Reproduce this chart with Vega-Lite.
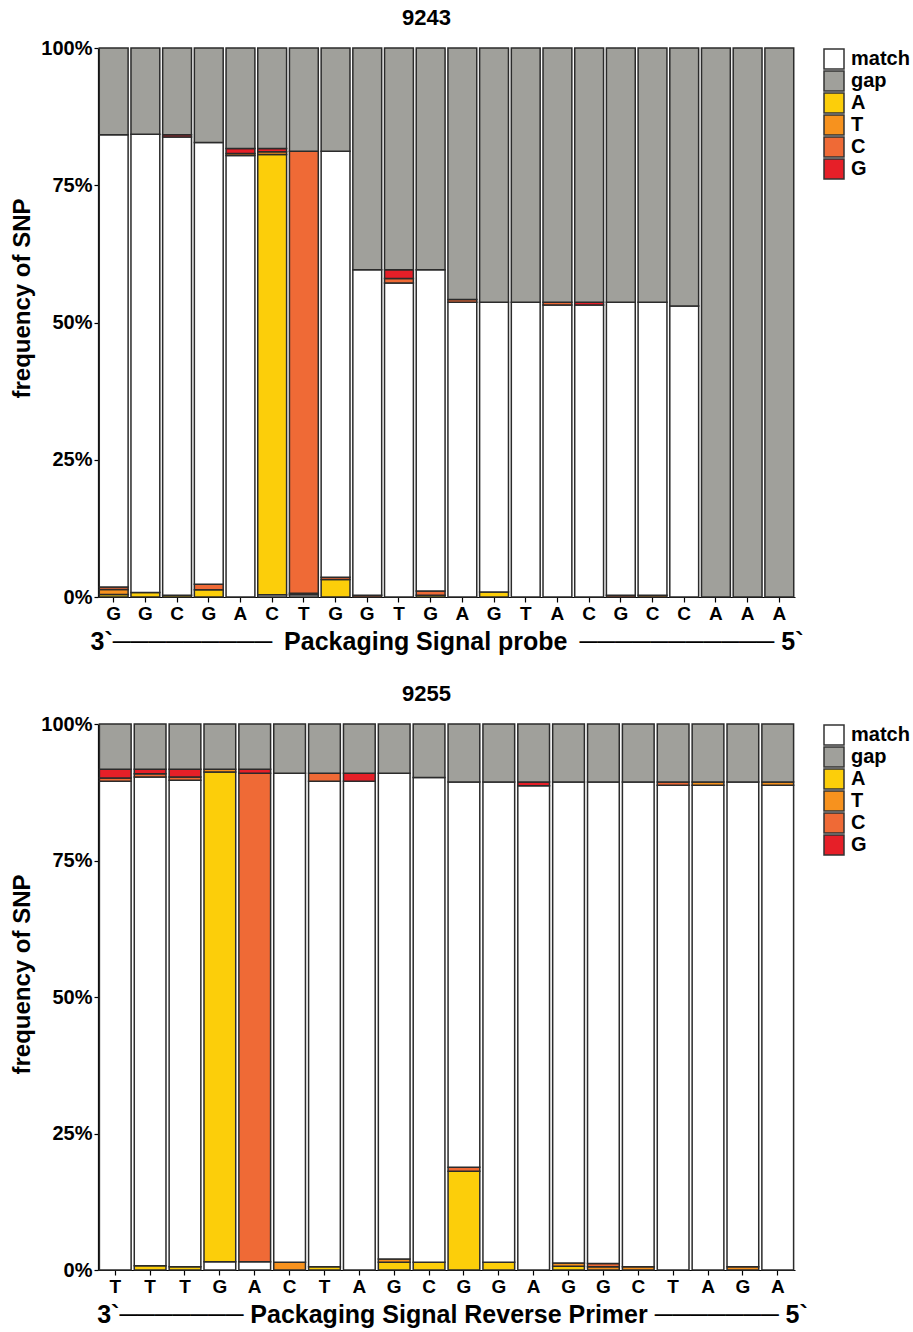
{
  "$schema": "https://vega.github.io/schema/vega-lite/v6.json",
  "padding": {"left": 10, "top": 7, "right": 2, "bottom": 2},
  "background": "white",
  "config": {
    "font": "Liberation Sans",
    "view": {"stroke": null},
    "axis": {"domainColor": "#000", "tickColor": "#000", "labelColor": "#000", "titleColor": "#000", "labelFont": "Liberation Sans", "titleFont": "Liberation Sans", "labelFontWeight": "bold", "titleFontWeight": "bold", "grid": false, "domainWidth": 1.2, "tickWidth": 1.2},
    "title": {"fontSize": 22, "fontWeight": "bold", "color": "#000", "font": "Liberation Sans", "offset": 8, "dx": -20},
    "legend": {"orient": "right", "offset": 28, "symbolType": "square", "symbolSize": 400, "symbolStrokeColor": "#333", "symbolStrokeWidth": 1.5, "labelFontSize": 20, "labelFontWeight": "bold", "labelFont": "Liberation Sans", "labelColor": "#000", "rowPadding": 0, "clipHeight": 22, "labelOffset": 6, "padding": 0}
  },
  "datasets": {
    "d9243": [
      {"site": "01 G", "cat": "A", "v": 0.45}, {"site": "01 G", "cat": "T", "v": 0.9}, {"site": "01 G", "cat": "C", "v": 0.45}, {"site": "01 G", "cat": "match", "v": 82.4}, {"site": "01 G", "cat": "gap", "v": 15.8},
      {"site": "02 G", "cat": "A", "v": 0.8}, {"site": "02 G", "cat": "match", "v": 83.5}, {"site": "02 G", "cat": "gap", "v": 15.7},
      {"site": "03 C", "cat": "A", "v": 0.3}, {"site": "03 C", "cat": "match", "v": 83.5}, {"site": "03 C", "cat": "G", "v": 0.4}, {"site": "03 C", "cat": "gap", "v": 15.8},
      {"site": "04 G", "cat": "A", "v": 1.3}, {"site": "04 G", "cat": "C", "v": 1.0}, {"site": "04 G", "cat": "match", "v": 80.5}, {"site": "04 G", "cat": "gap", "v": 17.2},
      {"site": "05 A", "cat": "match", "v": 80.4}, {"site": "05 A", "cat": "T", "v": 0.4}, {"site": "05 A", "cat": "G", "v": 0.9}, {"site": "05 A", "cat": "gap", "v": 18.3},
      {"site": "06 C", "cat": "match", "v": 0.4}, {"site": "06 C", "cat": "A", "v": 80.2}, {"site": "06 C", "cat": "T", "v": 0.5}, {"site": "06 C", "cat": "G", "v": 0.6}, {"site": "06 C", "cat": "gap", "v": 18.3},
      {"site": "07 T", "cat": "match", "v": 0.4}, {"site": "07 T", "cat": "A", "v": 0.3}, {"site": "07 T", "cat": "C", "v": 80.5}, {"site": "07 T", "cat": "gap", "v": 18.8},
      {"site": "08 G", "cat": "A", "v": 3.2}, {"site": "08 G", "cat": "C", "v": 0.4}, {"site": "08 G", "cat": "match", "v": 77.6}, {"site": "08 G", "cat": "gap", "v": 18.8},
      {"site": "09 G", "cat": "C", "v": 0.3}, {"site": "09 G", "cat": "match", "v": 59.3}, {"site": "09 G", "cat": "gap", "v": 40.4},
      {"site": "10 T", "cat": "match", "v": 57.2}, {"site": "10 T", "cat": "C", "v": 0.8}, {"site": "10 T", "cat": "G", "v": 1.6}, {"site": "10 T", "cat": "gap", "v": 40.4},
      {"site": "11 G", "cat": "A", "v": 0.3}, {"site": "11 G", "cat": "C", "v": 0.8}, {"site": "11 G", "cat": "match", "v": 58.5}, {"site": "11 G", "cat": "gap", "v": 40.4},
      {"site": "12 A", "cat": "match", "v": 53.7}, {"site": "12 A", "cat": "C", "v": 0.5}, {"site": "12 A", "cat": "gap", "v": 45.8},
      {"site": "13 G", "cat": "A", "v": 0.9}, {"site": "13 G", "cat": "match", "v": 52.8}, {"site": "13 G", "cat": "gap", "v": 46.3},
      {"site": "14 T", "cat": "match", "v": 53.7}, {"site": "14 T", "cat": "gap", "v": 46.3},
      {"site": "15 A", "cat": "match", "v": 53.2}, {"site": "15 A", "cat": "C", "v": 0.5}, {"site": "15 A", "cat": "gap", "v": 46.3},
      {"site": "16 C", "cat": "match", "v": 53.2}, {"site": "16 C", "cat": "G", "v": 0.5}, {"site": "16 C", "cat": "gap", "v": 46.3},
      {"site": "17 G", "cat": "C", "v": 0.3}, {"site": "17 G", "cat": "match", "v": 53.4}, {"site": "17 G", "cat": "gap", "v": 46.3},
      {"site": "18 C", "cat": "T", "v": 0.3}, {"site": "18 C", "cat": "match", "v": 53.4}, {"site": "18 C", "cat": "gap", "v": 46.3},
      {"site": "19 C", "cat": "match", "v": 53.0}, {"site": "19 C", "cat": "gap", "v": 47.0},
      {"site": "20 A", "cat": "gap", "v": 100},
      {"site": "21 A", "cat": "gap", "v": 100},
      {"site": "22 A", "cat": "gap", "v": 100}
    ],
    "d9255": [
      {"site": "01 T", "cat": "match", "v": 89.5}, {"site": "01 T", "cat": "C", "v": 0.6}, {"site": "01 T", "cat": "G", "v": 1.6}, {"site": "01 T", "cat": "gap", "v": 8.3},
      {"site": "02 T", "cat": "A", "v": 0.8}, {"site": "02 T", "cat": "match", "v": 89.5}, {"site": "02 T", "cat": "C", "v": 0.6}, {"site": "02 T", "cat": "G", "v": 0.8}, {"site": "02 T", "cat": "gap", "v": 8.3},
      {"site": "03 T", "cat": "A", "v": 0.6}, {"site": "03 T", "cat": "match", "v": 89.1}, {"site": "03 T", "cat": "C", "v": 0.6}, {"site": "03 T", "cat": "G", "v": 1.4}, {"site": "03 T", "cat": "gap", "v": 8.3},
      {"site": "04 G", "cat": "match", "v": 1.5}, {"site": "04 G", "cat": "A", "v": 89.7}, {"site": "04 G", "cat": "T", "v": 0.5}, {"site": "04 G", "cat": "gap", "v": 8.3},
      {"site": "05 A", "cat": "match", "v": 1.5}, {"site": "05 A", "cat": "C", "v": 89.5}, {"site": "05 A", "cat": "G", "v": 0.7}, {"site": "05 A", "cat": "gap", "v": 8.3},
      {"site": "06 C", "cat": "T", "v": 1.4}, {"site": "06 C", "cat": "match", "v": 89.6}, {"site": "06 C", "cat": "gap", "v": 9.0},
      {"site": "07 T", "cat": "A", "v": 0.6}, {"site": "07 T", "cat": "match", "v": 88.9}, {"site": "07 T", "cat": "C", "v": 1.5}, {"site": "07 T", "cat": "gap", "v": 9.0},
      {"site": "08 A", "cat": "match", "v": 89.5}, {"site": "08 A", "cat": "G", "v": 1.5}, {"site": "08 A", "cat": "gap", "v": 9.0},
      {"site": "09 G", "cat": "A", "v": 1.4}, {"site": "09 G", "cat": "T", "v": 0.6}, {"site": "09 G", "cat": "match", "v": 89.0}, {"site": "09 G", "cat": "gap", "v": 9.0},
      {"site": "10 C", "cat": "A", "v": 1.4}, {"site": "10 C", "cat": "match", "v": 88.8}, {"site": "10 C", "cat": "gap", "v": 9.8},
      {"site": "11 G", "cat": "A", "v": 18.1}, {"site": "11 G", "cat": "C", "v": 0.7}, {"site": "11 G", "cat": "match", "v": 70.6}, {"site": "11 G", "cat": "gap", "v": 10.6},
      {"site": "12 G", "cat": "A", "v": 1.4}, {"site": "12 G", "cat": "match", "v": 88.0}, {"site": "12 G", "cat": "gap", "v": 10.6},
      {"site": "13 A", "cat": "match", "v": 88.7}, {"site": "13 A", "cat": "G", "v": 0.7}, {"site": "13 A", "cat": "gap", "v": 10.6},
      {"site": "14 G", "cat": "A", "v": 0.7}, {"site": "14 G", "cat": "T", "v": 0.6}, {"site": "14 G", "cat": "match", "v": 88.1}, {"site": "14 G", "cat": "gap", "v": 10.6},
      {"site": "15 G", "cat": "T", "v": 0.6}, {"site": "15 G", "cat": "C", "v": 0.6}, {"site": "15 G", "cat": "match", "v": 88.2}, {"site": "15 G", "cat": "gap", "v": 10.6},
      {"site": "16 C", "cat": "T", "v": 0.6}, {"site": "16 C", "cat": "match", "v": 88.8}, {"site": "16 C", "cat": "gap", "v": 10.6},
      {"site": "17 T", "cat": "match", "v": 88.8}, {"site": "17 T", "cat": "C", "v": 0.6}, {"site": "17 T", "cat": "gap", "v": 10.6},
      {"site": "18 A", "cat": "match", "v": 88.8}, {"site": "18 A", "cat": "T", "v": 0.6}, {"site": "18 A", "cat": "gap", "v": 10.6},
      {"site": "19 G", "cat": "T", "v": 0.6}, {"site": "19 G", "cat": "match", "v": 88.8}, {"site": "19 G", "cat": "gap", "v": 10.6},
      {"site": "20 A", "cat": "match", "v": 88.8}, {"site": "20 A", "cat": "T", "v": 0.6}, {"site": "20 A", "cat": "gap", "v": 10.6}
    ]
  },
  "spacing": 29,
  "resolve": {"scale": {"color": "independent"}},
  "vconcat": [
    {
      "data": {"name": "d9243"},
      "title": {"text": "9243"},
      "width": 697,
      "height": 549,
      "transform": [{"window": [{"op": "row_number", "as": "k"}]}],
      "mark": {"type": "bar", "stroke": "#2b2b2b", "strokeWidth": 1.5},
      "encoding": {
        "x": {"field": "site", "type": "ordinal", "sort": null, "scale": {"paddingInner": 0.09, "paddingOuter": 0.04},
          "axis": {"labelExpr": "slice(datum.label, 3)", "labelAngle": 0, "labelFontSize": 19, "tickSize": 5, "labelPadding": 2, "title": "3`─────────\u2009 Packaging Signal probe \u2009─────────── 5`", "titleFontSize": 25, "titlePadding": 6}},
        "y": {"field": "v", "type": "quantitative", "stack": "normalize",
          "axis": {"values": [0, 0.25, 0.5, 0.75, 1], "format": ".0%", "labelFontSize": 20, "tickSize": 4, "labelPadding": 2, "title": "frequency of SNP", "titleFontSize": 24, "titlePadding": 6, "titleY": 250}},
        "color": {"field": "cat", "type": "nominal", "scale": {"domain": ["match", "gap", "A", "T", "C", "G"], "range": ["#ffffff", "#a0a09b", "#fcce0a", "#f7921e", "#ef6a36", "#e61f28"]}, "legend": {"title": null}},
        "order": {"field": "k", "type": "quantitative"}
      }
    },
    {
      "data": {"name": "d9255"},
      "title": {"text": "9255"},
      "width": 697,
      "height": 546,
      "transform": [{"window": [{"op": "row_number", "as": "k"}]}],
      "mark": {"type": "bar", "stroke": "#2b2b2b", "strokeWidth": 1.5},
      "encoding": {
        "x": {"field": "site", "type": "ordinal", "sort": null, "scale": {"paddingInner": 0.09, "paddingOuter": 0.04},
          "axis": {"labelExpr": "slice(datum.label, 3)", "labelAngle": 0, "labelFontSize": 19, "tickSize": 5, "labelPadding": 2, "title": "3`─────── Packaging Signal Reverse Primer ─────── 5`", "titleFontSize": 25, "titlePadding": 6, "titleX": 354}},
        "y": {"field": "v", "type": "quantitative", "stack": "normalize",
          "axis": {"values": [0, 0.25, 0.5, 0.75, 1], "format": ".0%", "labelFontSize": 20, "tickSize": 4, "labelPadding": 2, "title": "frequency of SNP", "titleFontSize": 24, "titlePadding": 6, "titleY": 250}},
        "color": {"field": "cat", "type": "nominal", "scale": {"domain": ["match", "gap", "A", "T", "C", "G"], "range": ["#ffffff", "#a0a09b", "#fcce0a", "#f7921e", "#ef6a36", "#e61f28"]}, "legend": {"title": null}},
        "order": {"field": "k", "type": "quantitative"}
      }
    }
  ]
}
